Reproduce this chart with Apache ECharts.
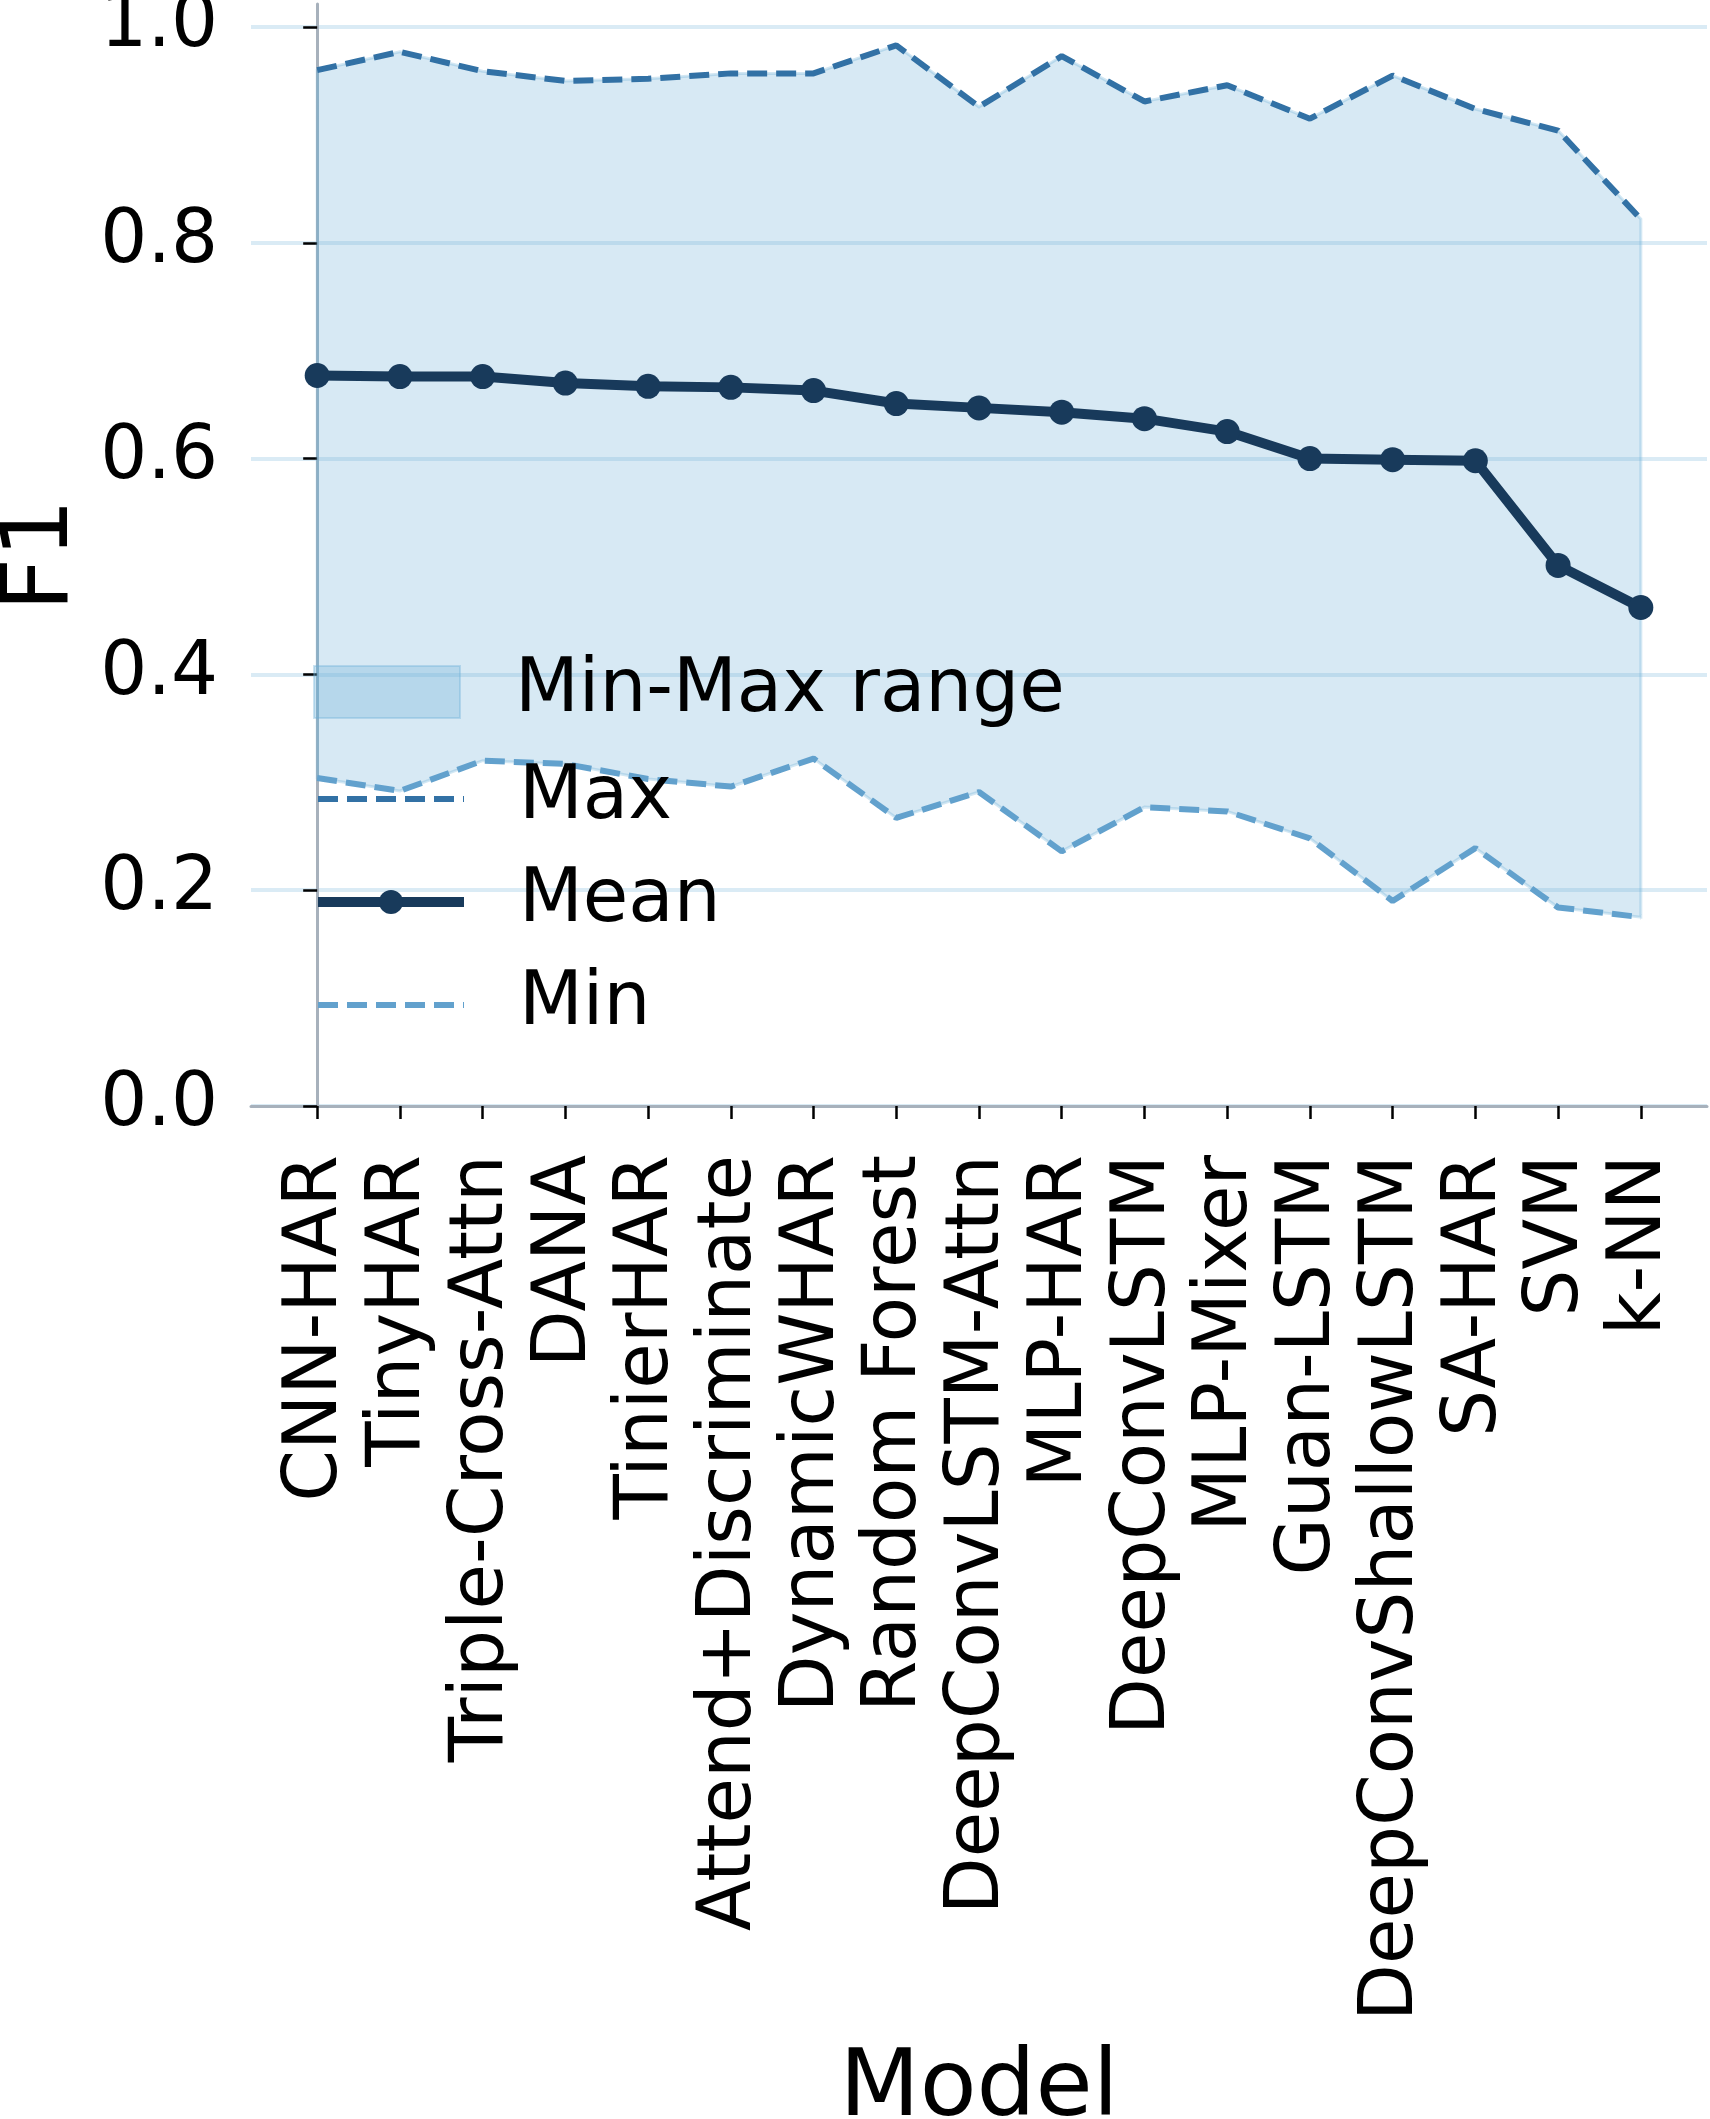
<!DOCTYPE html>
<html>
<head>
<meta charset="utf-8">
<script src="https://cdn.jsdelivr.net/npm/echarts@6/dist/echarts.min.js"></script>
<style>
  html, body { margin: 0; padding: 0; background: #fff; }
  #chart { width: 1710px; height: 2119px; }
</style>
</head>
<body>
<div id="chart"></div>
<script>
// F1 per model: min / mean / max over runs
const models = ['CNN-HAR', 'TinyHAR', 'Triple-Cross-Attn', 'DANA', 'TinierHAR',
  'Attend+Discriminate', 'DynamicWHAR', 'Random Forest', 'DeepConvLSTM-Attn',
  'MLP-HAR', 'DeepConvLSTM', 'MLP-Mixer', 'Guan-LSTM', 'DeepConvShallowLSTM',
  'SA-HAR', 'SVM', 'k-NN']
const meanF1 = [0.677, 0.676, 0.676, 0.670, 0.667, 0.666, 0.663, 0.651, 0.647,
  0.643, 0.637, 0.625, 0.600, 0.599, 0.598, 0.501, 0.462]
const maxF1 = [0.960, 0.977, 0.959, 0.950, 0.952, 0.957, 0.957, 0.983, 0.926,
  0.973, 0.931, 0.946, 0.915, 0.955, 0.924, 0.904, 0.822]
const minF1 = [0.304, 0.292, 0.320, 0.317, 0.303, 0.296, 0.322, 0.267, 0.291,
  0.236, 0.277, 0.273, 0.248, 0.190, 0.239, 0.184, 0.175]
const yTicks = [0, 0.2, 0.4, 0.6, 0.8, 1.0]

const FONT = 'DejaVu Sans'
const MAX_COLOR = '#3271a5'
const MEAN_COLOR = '#183a5b'
const MIN_COLOR = '#62a1cd'
const idx = models.map((_, i) => i)
const pairs = arr => arr.map((v, i) => [i, v])

const chart = echarts.init(document.getElementById('chart'))

const legendText = { fontFamily: FONT, fontSize: 74, color: '#000', padding: [0, 0, 0, 50] }

chart.setOption({
  animation: false,
  backgroundColor: '#fff',
  textStyle: { fontFamily: FONT },
  grid: { left: 251, right: 3, top: 4, bottom: 1013, containLabel: false, outerBoundsMode: 'none' },
  legend: [
    {
      data: ['Min-Max range'],
      orient: 'vertical', left: 308, top: 650,
      itemWidth: 146, itemHeight: 52,
      icon: 'rect',
      itemStyle: { color: 'rgba(107,174,214,0.30)', borderColor: 'rgba(107,174,214,0.35)', borderWidth: 2 },
      textStyle: legendText
    },
    {
      data: [
        { name: 'Max', itemStyle: { opacity: 0 }, lineStyle: { color: MAX_COLOR, width: 6, type: [20, 9] } },
        { name: 'Mean', itemStyle: { color: MEAN_COLOR }, lineStyle: { color: MEAN_COLOR, width: 10 } },
        { name: 'Min', itemStyle: { opacity: 0 }, lineStyle: { color: MIN_COLOR, width: 6, type: [20, 9] } }
      ],
      orient: 'vertical', left: 308, top: 757,
      itemWidth: 146, itemHeight: 30, itemGap: 29,
      textStyle: legendText
    }
  ],
  xAxis: {
    type: 'value', min: -0.8, max: 16.8,
    name: 'Model', nameLocation: 'middle', nameGap: 938,
    nameTextStyle: { fontFamily: FONT, fontSize: 93, color: '#000' },
    axisLine: { show: true, onZero: false, lineStyle: { color: '#a7b1bc', width: 3 } },
    axisTick: { show: true, customValues: idx, length: 13, lineStyle: { color: '#000', width: 2.5 } },
    axisLabel: {
      customValues: idx, rotate: 90, margin: 49,
      fontFamily: FONT, fontSize: 74, color: '#000',
      formatter: v => models[Math.round(v)]
    },
    splitLine: { show: false }
  },
  yAxis: {
    type: 'value', min: 0, max: 1.0213,
    name: 'F1', nameLocation: 'middle', nameGap: 153, nameRotate: 90,
    nameTextStyle: { fontFamily: FONT, fontSize: 93, color: '#000' },
    axisLine: { show: true, lineStyle: { color: '#a7b1bc', width: 3 } },
    axisTick: { show: true, customValues: yTicks, length: 14, lineStyle: { color: '#000', width: 2.5 } },
    axisLabel: {
      customValues: yTicks, margin: 33,
      fontFamily: FONT, fontSize: 74, color: '#000',
      formatter: v => v.toFixed(1)
    },
    splitLine: { show: true, lineStyle: { color: 'rgba(107,174,214,0.25)', width: 4 } }
  },
  series: [
    {
      name: 'Min-Max range',
      type: 'custom',
      data: [0],
      z: 1,
      itemStyle: { color: 'rgba(107,174,214,0.28)' },
      renderItem: (params, api) => {
        const upper = maxF1.map((v, i) => api.coord([i, v]))
        const lower = minF1.map((v, i) => api.coord([i, v])).reverse()
        return {
          type: 'polygon',
          shape: { points: upper.concat(lower) },
          style: { fill: 'rgba(107,174,214,0.27)', stroke: 'rgba(107,174,214,0.30)', lineWidth: 3 }
        }
      }
    },
    {
      name: 'Max', type: 'line', data: pairs(maxF1), z: 3,
      showSymbol: false, symbol: 'none',
      lineStyle: { color: MAX_COLOR, width: 6, type: [20, 9] },
      itemStyle: { color: MAX_COLOR }
    },
    {
      name: 'Mean', type: 'line', data: pairs(meanF1), z: 4,
      symbol: 'circle', symbolSize: 25,
      lineStyle: { color: MEAN_COLOR, width: 10 },
      itemStyle: { color: MEAN_COLOR }
    },
    {
      name: 'Min', type: 'line', data: pairs(minF1), z: 3,
      showSymbol: false, symbol: 'none',
      lineStyle: { color: MIN_COLOR, width: 6, type: [20, 9] },
      itemStyle: { color: MIN_COLOR }
    }
  ]
})
</script>
</body>
</html>
